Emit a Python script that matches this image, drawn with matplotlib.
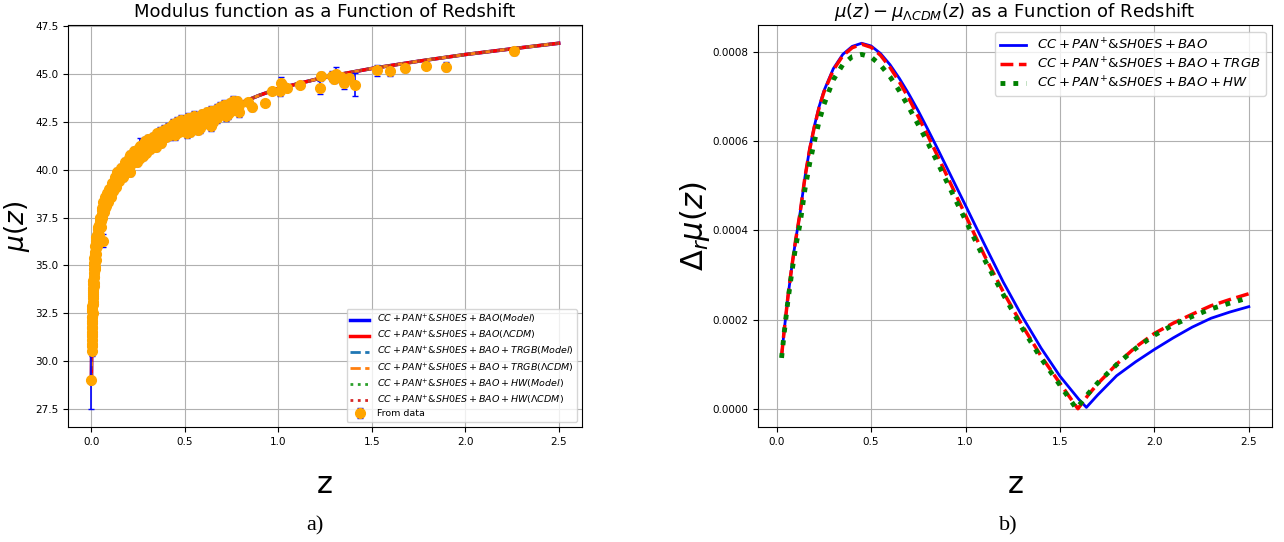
import matplotlib
matplotlib.use("Agg")
import matplotlib.pyplot as plt

# ---- panel a): distance modulus data (z, mu, sigma) ----
z_data = [
    0.0012, 0.0016, 0.0020, 0.0024, 0.0028, 0.0032, 0.0036, 0.0040, 0.0045, 0.0050,
    0.0055, 0.0060, 0.0065, 0.0070, 0.0075, 0.0080, 0.0090, 0.0100, 0.0105, 0.0110,
    0.0120, 0.0125, 0.0130, 0.0140, 0.0150, 0.0155, 0.0160, 0.0170, 0.0180, 0.0190,
    0.0200, 0.0210, 0.0220, 0.0235, 0.0250, 0.0265, 0.0280, 0.0300, 0.0320, 0.0340,
    0.0360, 0.0380, 0.0400, 0.0430, 0.0460, 0.0490, 0.0520, 0.0550, 0.0580, 0.0620,
    0.0620, 0.0660, 0.0700, 0.0740, 0.0780, 0.0820, 0.0860, 0.0900, 0.0950, 0.1000,
    0.1050, 0.1100, 0.1150, 0.1200, 0.1250, 0.1300, 0.1350, 0.1400, 0.1450, 0.1500,
    0.1550, 0.1600, 0.1650, 0.1700, 0.1750, 0.1800, 0.1850, 0.1900, 0.1950, 0.2000,
    0.2050, 0.2100, 0.2150, 0.2200, 0.2250, 0.2300, 0.2350, 0.2400, 0.2450, 0.2500,
    0.2550, 0.2600, 0.2650, 0.2700, 0.2750, 0.2800, 0.2850, 0.2900, 0.2950, 0.3000,
    0.3100, 0.3150, 0.3200, 0.3300, 0.3400, 0.3450, 0.3500, 0.3600, 0.3700, 0.3750,
    0.3800, 0.3900, 0.4000, 0.4100, 0.4200, 0.4300, 0.4400, 0.4500, 0.4600, 0.4700,
    0.4800, 0.4900, 0.5000, 0.5100, 0.5200, 0.5300, 0.5400, 0.5500, 0.5600, 0.5700,
    0.5800, 0.5900, 0.6000, 0.6100, 0.6200, 0.6300, 0.6400, 0.6500, 0.6600, 0.6700,
    0.6800, 0.6900, 0.7000, 0.7100, 0.7200, 0.7300, 0.7400, 0.7500, 0.7600, 0.7700,
    0.7800, 0.7900, 0.840, 0.860, 0.930, 0.965, 1.010, 1.015, 1.025, 1.045,
    1.115, 1.225, 1.230, 1.290, 1.300, 1.310, 1.335, 1.350, 1.380, 1.410,
    1.530, 1.600, 1.680, 1.790, 1.900, 2.260,
    # second, scattered row of the same survey
    0.003, 0.004, 0.005, 0.006, 0.007, 0.008, 0.009, 0.010, 0.012, 0.014,
    0.016, 0.018, 0.020, 0.022, 0.024, 0.027, 0.030, 0.033, 0.036, 0.040,
    0.045, 0.050, 0.055, 0.060, 0.065, 0.070, 0.075, 0.080, 0.085, 0.090,
    0.095, 0.100, 0.105, 0.110, 0.120, 0.125, 0.135, 0.140, 0.150, 0.160,
    0.170, 0.180, 0.190, 0.200, 0.205, 0.210, 0.220, 0.230, 0.240, 0.250,
    0.260, 0.270, 0.280, 0.290, 0.300, 0.305, 0.320, 0.330, 0.340, 0.350,
    0.360, 0.370, 0.380, 0.390, 0.400, 0.410, 0.420, 0.430, 0.440, 0.450,
    0.460, 0.470, 0.480, 0.490, 0.500, 0.510, 0.520, 0.530, 0.540, 0.550,
    0.560, 0.570, 0.580, 0.590, 0.600, 0.610, 0.620, 0.630, 0.640, 0.650,
    0.660, 0.670, 0.680, 0.690, 0.700, 0.710, 0.720, 0.730, 0.740, 0.750,
    0.760, 0.770, 0.780, 0.790,
]
mu_data = [
    29.00, 30.50, 30.80, 31.10, 31.40, 31.70, 31.50, 32.00, 32.30, 32.10,
    32.60, 32.90, 32.70, 33.10, 33.30, 33.00, 33.50, 33.80, 33.40, 34.00,
    34.20, 33.90, 34.40, 34.60, 34.80, 34.40, 35.00, 35.10, 34.80, 35.30,
    35.50, 35.20, 35.70, 35.90, 35.60, 36.10, 36.30, 36.00, 36.50, 36.70,
    36.40, 36.90, 37.10, 37.00, 37.30, 37.50, 37.30, 37.70, 37.90, 36.30,
    37.80, 38.10, 38.20, 38.00, 38.40, 38.50, 38.30, 38.70, 38.80, 38.60,
    39.00, 39.10, 38.90, 39.30, 39.40, 39.10, 39.60, 39.50, 39.70, 39.40,
    39.90, 39.70, 40.00, 40.10, 39.80, 40.20, 40.30, 39.90, 40.40, 40.20,
    40.50, 40.60, 40.30, 40.70, 40.50, 40.80, 40.60, 40.90, 40.40, 40.80,
    41.00, 41.25, 40.90, 41.10, 40.70, 41.20, 41.00, 41.30, 40.90, 41.20,
    41.40, 41.10, 41.50, 41.30, 41.60, 41.20, 41.70, 41.50, 41.80, 41.40,
    41.90, 41.70, 42.00, 41.80, 42.10, 42.30, 41.90, 42.20, 42.00, 42.30,
    42.10, 42.40, 42.20, 41.90, 42.40, 42.20, 42.50, 42.30, 42.60, 42.10,
    42.50, 42.70, 42.40, 42.80, 42.60, 42.90, 42.30, 42.80, 43.00, 42.70,
    43.10, 42.90, 43.20, 43.00, 42.80, 43.30, 43.10, 43.40, 43.20, 43.50,
    43.30, 43.00, 43.55, 43.30, 43.50, 44.10, 44.10, 44.55, 44.40, 44.30,
    44.45, 44.30, 44.90, 44.90, 44.75, 45.00, 44.85, 44.55, 44.80, 44.45,
    45.20, 45.15, 45.30, 45.45, 45.40, 46.20,
    30.90, 31.30, 31.80, 32.30, 32.50, 33.70, 33.00, 34.20, 33.60, 34.10,
    35.40, 35.60, 34.90, 36.00, 35.30, 36.50, 36.60, 36.10, 37.00, 36.60,
    37.50, 37.00, 38.00, 37.50, 38.30, 37.80, 38.60, 38.10, 38.80, 38.30,
    39.00, 38.90, 38.60, 39.30, 39.00, 39.60, 39.30, 39.90, 39.80, 40.10,
    39.60, 40.40, 40.20, 40.60, 39.90, 40.80, 40.40, 41.00, 40.60, 41.10,
    40.60, 41.30, 40.90, 41.50, 41.00, 41.60, 41.20, 41.70, 41.30, 41.90,
    41.40, 42.00, 41.60, 42.10, 41.70, 42.20, 41.80, 42.00, 42.40, 41.80,
    42.50, 42.00, 42.60, 42.10, 42.50, 42.30, 42.70, 42.00, 42.30, 42.80,
    42.40, 42.70, 42.20, 42.90, 42.60, 42.50, 43.00, 42.60, 43.10, 42.50,
    42.80, 43.20, 42.80, 43.30, 42.90, 43.40, 43.10, 42.90, 43.50, 43.10,
    43.60, 43.30, 43.60, 43.40,
]
err_data = [
    1.50, 0.25, 0.20, 0.20, 0.20, 0.15, 0.20, 0.15, 0.15, 0.15,
    0.15, 0.15, 0.15, 0.15, 0.15, 0.15, 0.12, 0.12, 0.12, 0.12,
    0.12, 0.12, 0.12, 0.12, 0.12, 0.12, 0.10, 0.10, 0.10, 0.10,
    0.10, 0.10, 0.10, 0.10, 0.10, 0.10, 0.10, 0.10, 0.10, 0.10,
    0.10, 0.10, 0.10, 0.10, 0.10, 0.10, 0.10, 0.10, 0.10, 0.35,
    0.10, 0.10, 0.10, 0.12, 0.10, 0.10, 0.12, 0.10, 0.10, 0.12,
    0.10, 0.10, 0.15, 0.10, 0.10, 0.15, 0.12, 0.25, 0.12, 0.15,
    0.12, 0.12, 0.12, 0.15, 0.15, 0.12, 0.15, 0.20, 0.15, 0.15,
    0.15, 0.20, 0.15, 0.15, 0.15, 0.15, 0.20, 0.15, 0.20, 0.15,
    0.15, 0.40, 0.15, 0.15, 0.20, 0.15, 0.15, 0.20, 0.20, 0.15,
    0.20, 0.20, 0.20, 0.20, 0.20, 0.20, 0.20, 0.20, 0.20, 0.20,
    0.20, 0.20, 0.20, 0.25, 0.20, 0.20, 0.20, 0.20, 0.20, 0.25,
    0.20, 0.25, 0.20, 0.25, 0.20, 0.20, 0.25, 0.20, 0.25, 0.25,
    0.20, 0.25, 0.20, 0.20, 0.25, 0.20, 0.25, 0.20, 0.20, 0.25,
    0.20, 0.20, 0.25, 0.20, 0.25, 0.20, 0.20, 0.25, 0.20, 0.20,
    0.25, 0.25, 0.12, 0.20, 0.15, 0.12, 0.25, 0.30, 0.20, 0.15,
    0.15, 0.35, 0.20, 0.25, 0.20, 0.40, 0.15, 0.30, 0.15, 0.60,
    0.30, 0.25, 0.20, 0.20, 0.25, 0.20,
    0.20, 0.20, 0.15, 0.15, 0.15, 0.15, 0.15, 0.12, 0.12, 0.12,
    0.12, 0.10, 0.12, 0.10, 0.12, 0.10, 0.10, 0.10, 0.10, 0.12,
    0.10, 0.12, 0.10, 0.12, 0.10, 0.12, 0.10, 0.12, 0.12, 0.12,
    0.12, 0.12, 0.15, 0.12, 0.15, 0.15, 0.15, 0.20, 0.15, 0.20,
    0.20, 0.20, 0.15, 0.20, 0.20, 0.20, 0.20, 0.20, 0.20, 0.20,
    0.20, 0.20, 0.20, 0.20, 0.20, 0.20, 0.20, 0.20, 0.20, 0.20,
    0.20, 0.25, 0.20, 0.25, 0.20, 0.25, 0.25, 0.20, 0.25, 0.25,
    0.25, 0.20, 0.25, 0.25, 0.25, 0.20, 0.25, 0.25, 0.20, 0.25,
    0.20, 0.25, 0.25, 0.25, 0.20, 0.25, 0.25, 0.20, 0.25, 0.25,
    0.20, 0.25, 0.20, 0.25, 0.20, 0.25, 0.20, 0.25, 0.20, 0.20,
    0.25, 0.20, 0.20, 0.20,
]

# model curves (all six fits overlap at this scale)
z_model = [0.001, 0.002, 0.005, 0.01, 0.02, 0.03, 0.05, 0.07, 0.1, 0.15, 0.2, 0.3,
           0.4, 0.5, 0.6, 0.7, 0.8, 0.9, 1.0, 1.25, 1.5, 1.75, 2.0, 2.25, 2.5]
mu_model = [28.8, 30.3, 32.3, 33.8, 35.3, 36.2, 37.35, 38.1, 38.8, 39.6, 40.2, 41.1,
            41.75, 42.25, 42.7, 43.1, 43.5, 43.9, 44.25, 44.85, 45.3, 45.68, 46.03, 46.33, 46.62]

# ---- panel b): |mu - mu_LCDM| ----
z_bao = [0.026, 0.04, 0.06, 0.08, 0.10, 0.125, 0.15, 0.175, 0.20, 0.225, 0.25, 0.30, 0.35,
         0.40, 0.45, 0.50, 0.55, 0.60, 0.65, 0.70, 0.75, 0.80, 0.85, 0.90, 0.95, 1.00,
         1.10, 1.20, 1.30, 1.40, 1.50, 1.60, 1.64, 1.70, 1.80, 1.90, 2.00, 2.10, 2.20,
         2.30, 2.40, 2.50]
d_bao = [0.000118, 0.000176, 0.000252, 0.000318, 0.000377, 0.000442, 0.000520, 0.000584,
         0.000635, 0.000678, 0.000713, 0.000763, 0.000795, 0.000813, 0.000820, 0.000814,
         0.000797, 0.000772, 0.000741, 0.000706, 0.000668, 0.000627, 0.000585, 0.000542,
         0.000499, 0.000456, 0.000369, 0.000284, 0.000207, 0.000136, 0.000073, 0.000021,
         0.000003, 0.000031, 0.000074, 0.000105, 0.000133, 0.000159, 0.000183, 0.000203,
         0.000217, 0.000229]

z_trgb = [0.026, 0.04, 0.06, 0.08, 0.10, 0.125, 0.15, 0.175, 0.20, 0.225, 0.25, 0.30, 0.35,
          0.40, 0.45, 0.50, 0.55, 0.60, 0.65, 0.70, 0.75, 0.80, 0.85, 0.90, 0.95, 1.00,
          1.10, 1.20, 1.30, 1.40, 1.50, 1.595, 1.65, 1.70, 1.80, 1.90, 2.00, 2.10, 2.20,
          2.30, 2.40, 2.50]
d_trgb = [0.000118, 0.000176, 0.000252, 0.000318, 0.000377, 0.000442, 0.000520, 0.000582,
          0.000633, 0.000676, 0.000710, 0.000760, 0.000792, 0.000810, 0.000818, 0.000811,
          0.000793, 0.000766, 0.000733, 0.000696, 0.000655, 0.000613, 0.000569, 0.000524,
          0.000479, 0.000434, 0.000344, 0.000262, 0.000187, 0.000118, 0.000057, 0.0,
          0.000031, 0.000056, 0.000100, 0.000138, 0.000169, 0.000192, 0.000212, 0.000231,
          0.000245, 0.000258]

z_hw = [0.026, 0.04, 0.06, 0.08, 0.10, 0.125, 0.15, 0.175, 0.20, 0.225, 0.25, 0.30, 0.35,
        0.40, 0.45, 0.50, 0.55, 0.60, 0.65, 0.70, 0.75, 0.80, 0.85, 0.90, 0.95, 1.00,
        1.10, 1.20, 1.30, 1.40, 1.50, 1.587, 1.65, 1.70, 1.80, 1.90, 2.00, 2.10, 2.20,
        2.30, 2.40, 2.50]
d_hw = [0.000114, 0.000170, 0.000244, 0.000305, 0.000362, 0.000418, 0.000493, 0.000551,
        0.000600, 0.000645, 0.000682, 0.000738, 0.000772, 0.000790, 0.000795, 0.000789,
        0.000771, 0.000745, 0.000713, 0.000676, 0.000637, 0.000597, 0.000554, 0.000510,
        0.000466, 0.000423, 0.000335, 0.000256, 0.000181, 0.000113, 0.000053, 0.0,
        0.000034, 0.000058, 0.000099, 0.000135, 0.000165, 0.000188, 0.000207, 0.000224,
        0.000237, 0.000249]

base = r"$CC+PAN^{+}$&$SH0ES+BAO"
labels_a = [
    base + r"(Model)$", base + r"(\Lambda CDM)$",
    base + r"+TRGB(Model)$", base + r"+TRGB(\Lambda CDM)$",
    base + r"+HW(Model)$", base + r"+HW(\Lambda CDM)$",
]
labels_b = [base + "$", base + "+TRGB$", base + "+HW$"]

fig = plt.figure(figsize=(12.84, 5.42), dpi=100)
ax1 = fig.add_axes([0.053, 0.2122, 0.4003, 0.7417])
ax2 = fig.add_axes([0.5905, 0.2122, 0.4003, 0.7417])

ax1.plot(z_model, mu_model, color="blue", lw=2.5, label=labels_a[0])
ax1.plot(z_model, mu_model, color="red", lw=2.5, label=labels_a[1])
ax1.plot(z_model, mu_model, color="tab:blue", ls="--", lw=2, label=labels_a[2])
ax1.plot(z_model, mu_model, color="tab:orange", ls="--", lw=2, label=labels_a[3])
ax1.plot(z_model, mu_model, color="tab:green", ls=":", lw=2, label=labels_a[4])
ax1.plot(z_model, mu_model, color="tab:red", ls=":", lw=2, label=labels_a[5])
ax1.errorbar(z_data, mu_data, yerr=err_data, fmt="o", color="orange", ecolor="blue",
             ms=7, elinewidth=1.2, capsize=2, label="From data")
ax1.set_title("Modulus function as a Function of Redshift", fontsize=13)
ax1.set_xlabel("z", fontsize=22, labelpad=17)
ax1.set_ylabel(r"$\mu(z)$", fontsize=19)
ax1.yaxis.set_label_coords(-0.07, 0.5)
ax1.tick_params(labelsize=7.5)
ax1.grid(True)
ax1.legend(loc="lower right", fontsize=6.8, labelspacing=0.3)

ax2.plot(z_bao, d_bao, color="blue", lw=2, label=labels_b[0])
ax2.plot(z_trgb, d_trgb, color="red", ls="--", lw=2.5, label=labels_b[1])
ax2.plot(z_hw, d_hw, color="green", ls=":", lw=3.5, label=labels_b[2])
ax2.set_title(r"$\mu(z)-\mu_{\Lambda CDM}(z)$ as a Function of Redshift", fontsize=13)
ax2.set_xlabel("z", fontsize=22, labelpad=17)
ax2.set_ylabel(r"$\Delta_r\mu(z)$", fontsize=22)
ax2.yaxis.set_label_coords(-0.09, 0.5)
ax2.set_yticks([0.0, 0.0002, 0.0004, 0.0006, 0.0008])
ax2.tick_params(labelsize=7.5)
ax2.grid(True)
ax2.legend(loc="upper right", fontsize=9.5, labelspacing=0.3)

fig.text(0.245, 0.022, "a)", fontsize=16, family="Liberation Serif", ha="center")
fig.text(0.785, 0.022, "b)", fontsize=16, family="Liberation Serif", ha="center")

fig.savefig("out.png", dpi=100)
